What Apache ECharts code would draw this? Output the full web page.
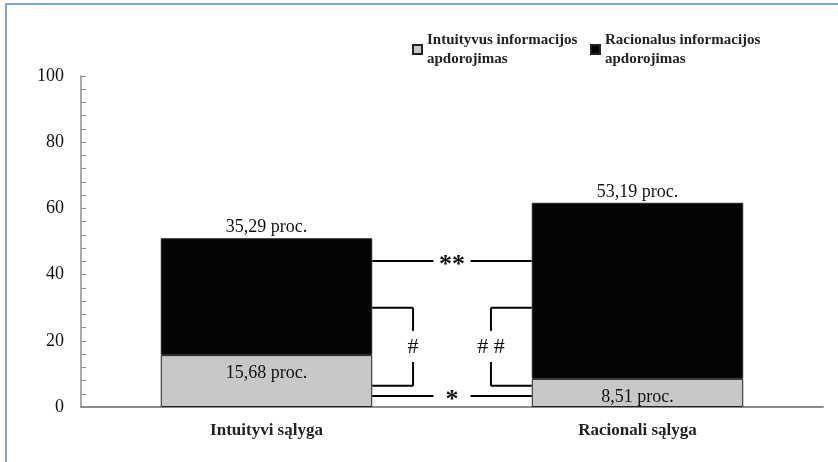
<!DOCTYPE html>
<html>
<head>
<meta charset="utf-8">
<script src="https://cdn.jsdelivr.net/npm/echarts@6/dist/echarts.min.js"></script>
<style>
  html, body { margin: 0; padding: 0; background: #fff; }
  #wrap { position: relative; width: 838px; height: 462px; overflow: hidden; }
  #frame { position: absolute; left: 5px; top: 3px; width: 900px; height: 600px;
           border-left: 2px solid #7ba6d6; border-top: 2px solid #7ba6d6; box-sizing: border-box; }
  #chart { position: absolute; left: 0; top: 0; width: 838px; height: 462px; }
</style>
</head>
<body>
<div id="wrap"><div id="frame"></div><div id="chart"></div></div>
<script>
// ---- data ----
var categories = ['Intuityvi sąlyga', 'Racionali sąlyga'];
var seriesNames = ['Intuityvus informacijos apdorojimas', 'Racionalus informacijos apdorojimas'];
var intuitiveValues = [15.68, 8.51];
var rationalValues = [35.29, 53.19];
var yTicks = [0, 20, 40, 60, 80, 100];
// significance annotations (y in data units)
var sigTopLevel = 44.1, sigTopLabel = '**';
var sigBottomLevel = 3.3, sigBottomLabel = '*';
var bracketTopLevel = 30.0, bracketBottomLevel = 6.4;
var bracketGapTop = 23.0, bracketGapBottom = 13.6, bracketLabelLevel = 18.2;
var bracketLeftLabel = '#', bracketRightLabel = '# #';

var SERIF = '"Liberation Serif", "Times New Roman", serif';
var chart = echarts.init(document.getElementById('chart'));

function fmt(v) { return v.toFixed(2).replace('.', ',') + ' proc.'; }
var BARW = 0.57;

var legendText = { fontFamily: SERIF, fontWeight: 'bold', fontSize: 15, color: '#222', lineHeight: 19, padding: [19, 0, 0, 0] };
function legendFmt(n) { return n.replace(' apdorojimas', '\napdorojimas'); }

chart.setOption({
  animation: false,
  backgroundColor: 'transparent',
  grid: { left: 81, right: 15, top: 76, bottom: 55 },
  legend: [
    { data: [seriesNames[0]], left: 412, top: 21, padding: 0, itemWidth: 9, itemHeight: 9, icon: 'rect',
      formatter: legendFmt, textStyle: legendText, selectedMode: false },
    { data: [seriesNames[1]], left: 590, top: 21, padding: 0, itemWidth: 9, itemHeight: 9, icon: 'rect',
      formatter: legendFmt, textStyle: legendText, selectedMode: false }
  ],
  xAxis: {
    type: 'category', data: categories,
    axisLine: { show: true, lineStyle: { color: '#8c8c8c', width: 2 } },
    axisTick: { show: false },
    axisLabel: { fontFamily: SERIF, fontWeight: 'bold', fontSize: 17, color: '#222', margin: 15 }
  },
  yAxis: {
    type: 'value', min: yTicks[0], max: yTicks[yTicks.length - 1], interval: yTicks[1] - yTicks[0],
    axisLine: { show: true, lineStyle: { color: '#8c8c8c', width: 1.5 } },
    axisTick: { show: true, inside: true, length: 5, lineStyle: { color: '#8c8c8c' } },
    minorTick: { show: true, splitNumber: 5, length: 5, lineStyle: { color: '#8c8c8c' } },
    splitLine: { show: false },
    axisLabel: { fontFamily: SERIF, fontSize: 18, color: '#111', margin: 17 }
  },
  series: [
    { name: seriesNames[0], type: 'bar', stack: 's', data: intuitiveValues, barWidth: (BARW * 100) + '%',
      itemStyle: { color: '#c8c8c8', borderColor: '#222', borderWidth: 1 },
      label: { show: true, position: 'insideTop', distance: 9, fontFamily: SERIF, fontSize: 18, color: '#111',
               formatter: function (p) { return fmt(p.value); } } },
    { name: seriesNames[1], type: 'bar', stack: 's', data: rationalValues, barWidth: (BARW * 100) + '%',
      itemStyle: { color: '#050505', borderColor: '#222', borderWidth: 1 },
      label: { show: true, position: 'top', distance: 2, fontFamily: SERIF, fontSize: 18, color: '#111',
               formatter: function (p) { return fmt(p.value); } } },
    { type: 'custom', silent: true, clip: false, z: 10, data: [[0, 0]],
      encode: { x: 0, y: 1 },
      renderItem: function (params, api) {
        var band = api.size([1, 0])[0];
        var c0 = api.coord([0, 0])[0];
        var half = band * BARW / 2;
        var xL = c0 + half, xR = c0 + band - half;
        var mid = (xL + xR) / 2;
        var gap = band * 0.05;
        var vL = xL + band * 0.11, vR = xR - band * 0.11;
        var Y = function (v) { return api.coord([0, v])[1]; };
        var ls = { stroke: '#000', lineWidth: 2, fill: null };
        function line(x1, y1, x2, y2) { return { type: 'line', shape: { x1: x1, y1: y1, x2: x2, y2: y2 }, style: ls }; }
        function txt(t, x, y, f) { return { type: 'text', style: { text: t, x: x, y: y, align: 'center', verticalAlign: 'middle',
          font: f, fill: '#111' } }; }
        var fHash = '22px ' + SERIF, fStar = 'bold 26px ' + SERIF;
        var yT = Y(sigTopLevel), yB = Y(sigBottomLevel), bT = Y(bracketTopLevel), bB = Y(bracketBottomLevel);
        var gT = Y(bracketGapTop), gB = Y(bracketGapBottom), gM = Y(bracketLabelLevel);
        return { type: 'group', children: [
          line(xL, yT, mid - gap, yT), line(mid + gap, yT, xR, yT), txt(sigTopLabel, mid, yT + 4, fStar),
          line(xL, yB, mid - gap, yB), line(mid + gap, yB, xR, yB), txt(sigBottomLabel, mid, yB + 4, fStar),
          line(xL, bT, vL, bT), line(vL, bT, vL, gT), line(vL, gB, vL, bB), line(vL, bB, xL, bB), txt(bracketLeftLabel, vL, gM, fHash),
          line(xR, bT, vR, bT), line(vR, bT, vR, gT), line(vR, gB, vR, bB), line(vR, bB, xR, bB), txt(bracketRightLabel, vR, gM, fHash)
        ] };
      } }
  ]
});
</script>
</body>
</html>
